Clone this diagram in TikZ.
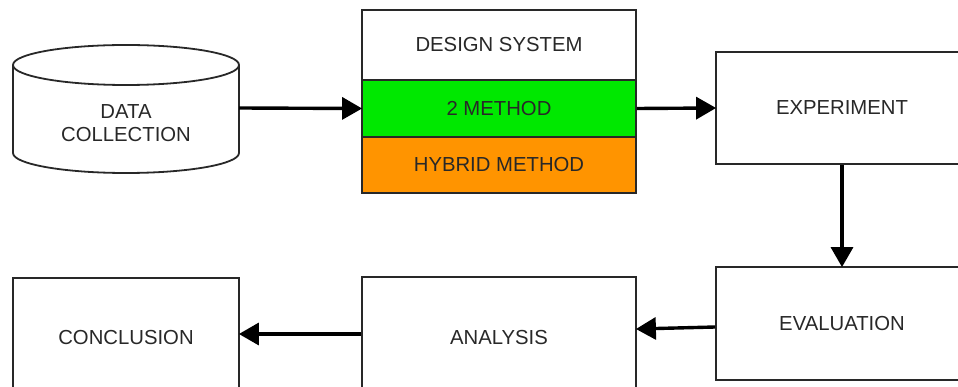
\documentclass[tikz,border=0pt]{standalone}
\usepackage{fontspec}
\setmainfont{Liberation Sans}
\usetikzlibrary{arrows.meta,calc}

\definecolor{cellgreen}{RGB}{0,232,0}
\definecolor{cellorange}{RGB}{255,148,0}
\definecolor{inkgray}{RGB}{40,40,40}

\tikzset{
  box/.style={draw=inkgray, line width=1.8pt, fill=white},
  label/.style={text=inkgray, font=\fontsize{20.3}{23}\selectfont, align=center, inner sep=0pt},
  stagebox/.style={box, label, rectangle, minimum width=#1, inner sep=0pt},
  flow/.style={draw=black, line width=3.4pt, -{Triangle[length=20pt,width=22pt]}, shorten >=-1pt},
}

\begin{document}
\begin{tikzpicture}[x=1pt, y=-1pt]
\useasboundingbox (0,0) rectangle (958,387);
\fill[white] (0,0) rectangle (958,387);
\clip (0,0) rectangle (958,387);

% data store drawn as a cylinder
\draw[box] (13,65) -- (13,153) arc[start angle=180, end angle=0, x radius=113, y radius=20] -- (239,65);
\draw[box] (126,65) ellipse[x radius=113, y radius=20];
\node[label] (data) at (126,123) {DATA\\COLLECTION};
\coordinate (dataE) at (239,108);

% stacked design block
\node[stagebox=274pt, minimum height=70pt] (design) at (499,45) {DESIGN SYSTEM};
\node[stagebox=274pt, minimum height=57pt, fill=cellgreen] (method) at (499,108.5) {2 METHOD};
\node[stagebox=274pt, minimum height=56pt, fill=cellorange] (hybrid) at (499,165) {HYBRID METHOD};

% right column
\node[stagebox=252pt, minimum height=112pt] (exp) at (842,108) {EXPERIMENT};
\node[stagebox=252pt, minimum height=113pt] (eval) at (842,323.5) {EVALUATION};

% bottom row
\node[stagebox=274pt, minimum height=121pt] (ana) at (499,337.5) {ANALYSIS};
\node[stagebox=226pt, minimum height=120pt] (conc) at (126,338) {CONCLUSION};

% connectors
\draw[flow] (dataE) -- (method.west);
\draw[flow] (method.east) -- (exp.west);
\draw[flow] (exp.south) -- (eval.north);
\draw[flow] ($(eval.west)+(0,3.5)$) -- ($(ana.east)+(0,-8.5)$);
\draw[flow] ($(ana.west)+(0,-3.5)$) -- ($(conc.east)+(0,-4)$);
\end{tikzpicture}
\end{document}
